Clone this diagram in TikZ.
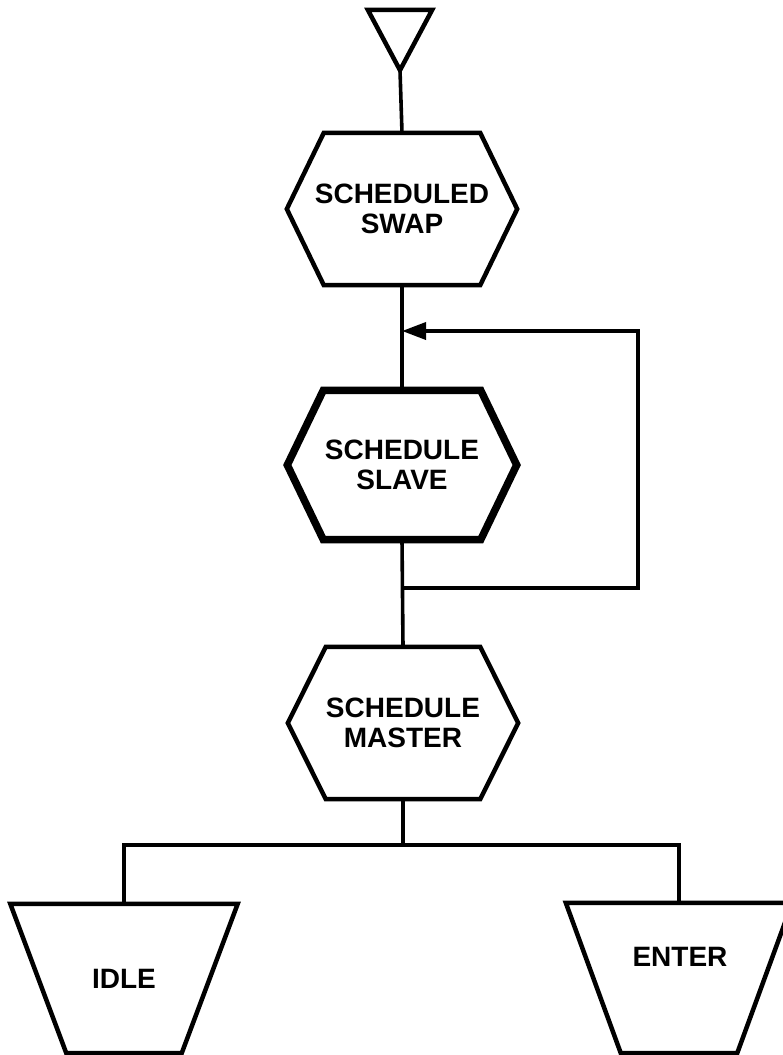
\documentclass[tikz,border=0pt]{standalone}
\usepackage{fontspec}
\setmainfont{Liberation Sans}
\usetikzlibrary{arrows.meta}
\tikzset{
  box/.style={rectangle, inner sep=0pt, align=center,
    font=\fontsize{28}{30.5}\selectfont\bfseries},
  outline/.style={line width=4.5pt, line join=miter},
  thickoutline/.style={line width=7.5pt, line join=miter},
  conn/.style={line width=3.6pt},
  tip/.style={-{Triangle[length=24pt,width=17pt]}}
}
\newcommand\hexoutline[3]{%
  \draw[#1] ([xshift=#3]#2.north west) -- ([xshift=-#3]#2.north east) -- (#2.east)
    -- ([xshift=-#3]#2.south east) -- ([xshift=#3]#2.south west) -- (#2.west) -- cycle;}
\newcommand\trapoutline[3]{%
  \draw[#1] (#2.north west) -- (#2.north east)
    -- ([xshift=-#3]#2.south east) -- ([xshift=#3]#2.south west) -- cycle;}
\begin{document}
\begin{tikzpicture}[x=1pt,y=-1pt]
\useasboundingbox (0,0) rectangle (783,1055);
\fill[white] (0,0) rectangle (783,1055);

% start triangle
\node[box, minimum width=64pt, minimum height=60pt] (t) at (400,40) {};
\draw[outline] (t.north west) -- (t.north east) -- (t.south) -- cycle;

% hexagons
\node[box, minimum width=230pt, minimum height=152pt] (h1) at (402,209) {SCHEDULED\\SWAP};
\hexoutline{outline}{h1}{37pt}

\node[box, minimum width=229pt, minimum height=149pt] (h2) at (402,465) {SCHEDULE\\SLAVE};
\hexoutline{thickoutline}{h2}{36pt}

\node[box, minimum width=230pt, minimum height=152pt] (h3) at (403,723) {SCHEDULE\\MASTER};
\hexoutline{outline}{h3}{38pt}

% end trapezia
\node[box, minimum width=227pt, minimum height=149pt] (idle) at (124,978.5) {IDLE};
\trapoutline{outline}{idle}{56pt}

\node[box, minimum width=226pt, minimum height=150pt] (enter) at (679,978) {};
\trapoutline{outline}{enter}{55pt}
\node[box] (entertext) at (680,957) {ENTER};

% connectors
\coordinate (a) at (402,331);
\coordinate (b) at (402,588);
\coordinate (loopR) at (638,331);
\coordinate (loopB) at (638,588);
\coordinate (split) at (403,845);

\draw[conn] (t.south) -- (h1.north);
\draw[conn] (h1.south) -- (h2.north);
\draw[conn] (h2.south) -- (h3.north);
\draw[conn, tip] (b) -- (loopB) -- (loopR) -- (a);
\draw[conn] (h3.south) -- (split);
\draw[conn] (idle.north) |- (split) -| (enter.north);
\end{tikzpicture}
\end{document}
